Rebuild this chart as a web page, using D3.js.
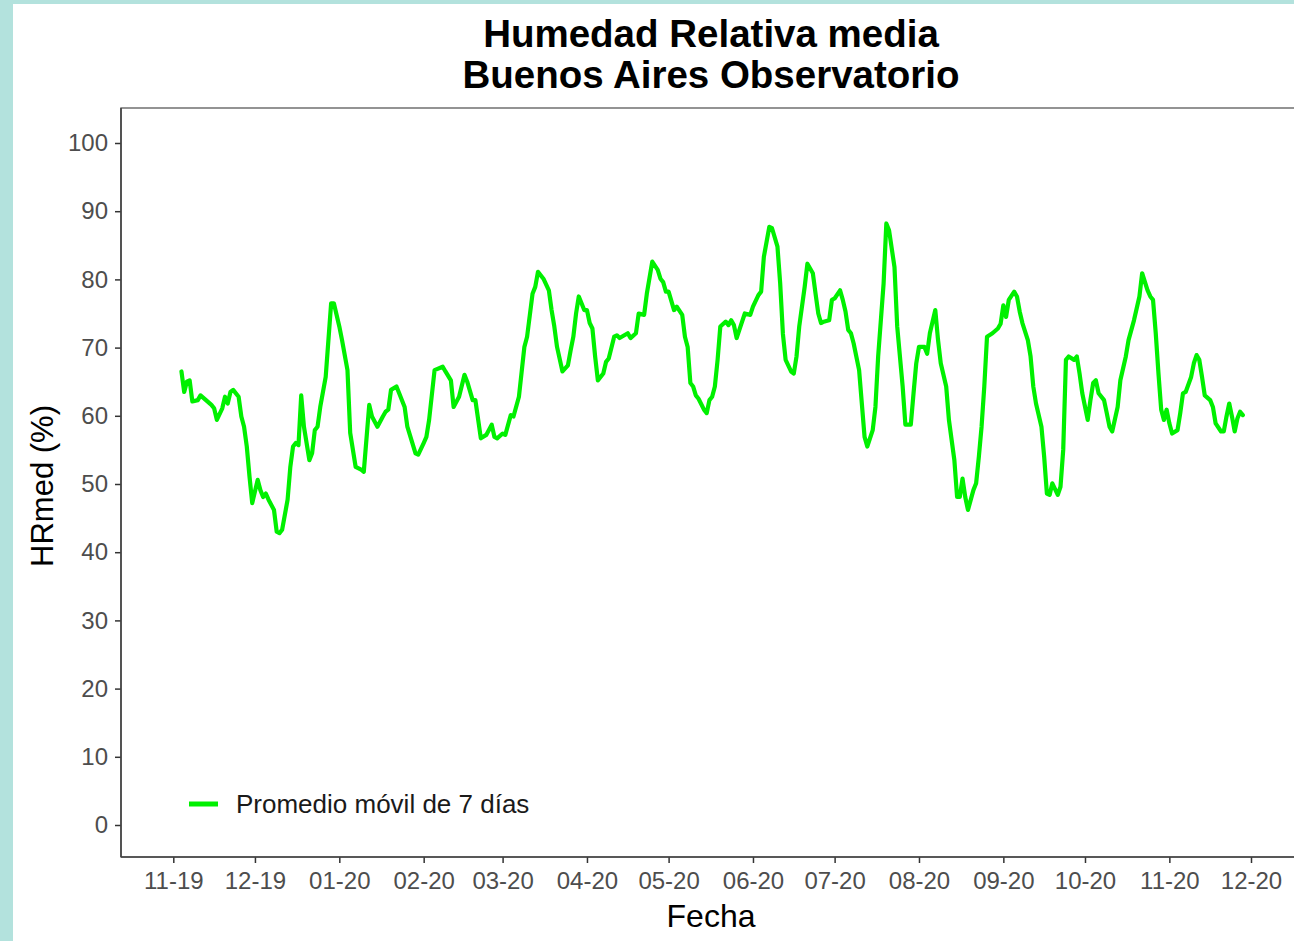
<!DOCTYPE html>
<html>
<head>
<meta charset="utf-8">
<script src="https://cdn.jsdelivr.net/npm/d3@7"></script>
<style>
html,body{margin:0;padding:0;background:#b3e2dd;}
svg{display:block;}
</style>
</head>
<body>
<svg id="chart" width="1294" height="941"></svg>
<script>
const titleLines = ["Humedad Relativa media", "Buenos Aires Observatorio"];
const xLabel = "Fecha";
const yLabel = "HRmed (%)";
const legendLabel = "Promedio móvil de 7 días";
const yTicks = [0,10,20,30,40,50,60,70,80,90,100];
const xTickDates = ["2019-11-01","2019-12-01","2020-01-01","2020-02-01","2020-03-01","2020-04-01","2020-05-01","2020-06-01","2020-07-01","2020-08-01","2020-09-01","2020-10-01","2020-11-01","2020-12-01"];

const dates = [
"2019-11-04","2019-11-05","2019-11-06","2019-11-07","2019-11-08","2019-11-10","2019-11-11","2019-11-13","2019-11-15","2019-11-16",
"2019-11-17","2019-11-19","2019-11-20","2019-11-21","2019-11-22","2019-11-23","2019-11-25","2019-11-26","2019-11-27","2019-11-28",
"2019-11-29","2019-11-30","2019-12-02","2019-12-03","2019-12-04","2019-12-05","2019-12-06","2019-12-08","2019-12-09","2019-12-10",
"2019-12-11","2019-12-13","2019-12-14","2019-12-15","2019-12-16","2019-12-17","2019-12-18","2019-12-19","2019-12-21","2019-12-22",
"2019-12-23","2019-12-24","2019-12-25","2019-12-27","2019-12-29","2019-12-30","2020-01-01","2020-01-02","2020-01-04","2020-01-05",
"2020-01-07","2020-01-09","2020-01-10","2020-01-12","2020-01-13","2020-01-15","2020-01-17","2020-01-18","2020-01-19","2020-01-20",
"2020-01-22","2020-01-23","2020-01-25","2020-01-26","2020-01-29","2020-01-30","2020-02-01","2020-02-02","2020-02-03","2020-02-05",
"2020-02-08","2020-02-09","2020-02-11","2020-02-12","2020-02-14","2020-02-16","2020-02-17","2020-02-19","2020-02-20","2020-02-22",
"2020-02-24","2020-02-26","2020-02-27","2020-02-28","2020-03-01","2020-03-02","2020-03-04","2020-03-05","2020-03-07","2020-03-09",
"2020-03-10","2020-03-12","2020-03-13","2020-03-14","2020-03-16","2020-03-18","2020-03-19","2020-03-20","2020-03-21","2020-03-23",
"2020-03-25","2020-03-26","2020-03-27","2020-03-28","2020-03-29","2020-03-31","2020-04-01","2020-04-02","2020-04-03","2020-04-04",
"2020-04-05","2020-04-07","2020-04-08","2020-04-09","2020-04-11","2020-04-12","2020-04-13","2020-04-16","2020-04-17","2020-04-19",
"2020-04-20","2020-04-22","2020-04-23","2020-04-25","2020-04-27","2020-04-28","2020-04-29","2020-04-30","2020-05-01","2020-05-03",
"2020-05-04","2020-05-06","2020-05-07","2020-05-08","2020-05-09","2020-05-10","2020-05-11","2020-05-12","2020-05-14","2020-05-15",
"2020-05-16","2020-05-17","2020-05-18","2020-05-19","2020-05-20","2020-05-22","2020-05-23","2020-05-24","2020-05-25","2020-05-26",
"2020-05-27","2020-05-29","2020-05-31","2020-06-01","2020-06-03","2020-06-04","2020-06-05","2020-06-07","2020-06-08","2020-06-10",
"2020-06-11","2020-06-12","2020-06-13","2020-06-15","2020-06-16","2020-06-17","2020-06-18","2020-06-20","2020-06-21","2020-06-23",
"2020-06-24","2020-06-25","2020-06-26","2020-06-27","2020-06-29","2020-06-30","2020-07-01","2020-07-03","2020-07-04","2020-07-05",
"2020-07-06","2020-07-07","2020-07-08","2020-07-10","2020-07-11","2020-07-12","2020-07-13","2020-07-15","2020-07-16","2020-07-17",
"2020-07-19","2020-07-20","2020-07-21","2020-07-23","2020-07-24","2020-07-26","2020-07-27","2020-07-29","2020-07-30","2020-07-31",
"2020-08-01","2020-08-03","2020-08-04","2020-08-05","2020-08-07","2020-08-08","2020-08-09","2020-08-11","2020-08-12","2020-08-14",
"2020-08-15","2020-08-16","2020-08-17","2020-08-18","2020-08-19","2020-08-21","2020-08-22","2020-08-23","2020-08-24","2020-08-25",
"2020-08-26","2020-08-28","2020-08-30","2020-08-31","2020-09-01","2020-09-02","2020-09-03","2020-09-05","2020-09-06","2020-09-07",
"2020-09-08","2020-09-10","2020-09-11","2020-09-12","2020-09-13","2020-09-15","2020-09-16","2020-09-17","2020-09-18","2020-09-19",
"2020-09-21","2020-09-22","2020-09-23","2020-09-24","2020-09-25","2020-09-27","2020-09-28","2020-09-29","2020-09-30","2020-10-02",
"2020-10-03","2020-10-04","2020-10-05","2020-10-06","2020-10-08","2020-10-09","2020-10-10","2020-10-11","2020-10-13","2020-10-14",
"2020-10-16","2020-10-17","2020-10-19","2020-10-21","2020-10-22","2020-10-24","2020-10-25","2020-10-26","2020-10-27","2020-10-28",
"2020-10-29","2020-10-30","2020-10-31","2020-11-01","2020-11-02","2020-11-04","2020-11-05","2020-11-06","2020-11-07","2020-11-09",
"2020-11-10","2020-11-11","2020-11-12","2020-11-13","2020-11-14","2020-11-16","2020-11-17","2020-11-18","2020-11-20","2020-11-21",
"2020-11-22","2020-11-23","2020-11-24","2020-11-25","2020-11-26","2020-11-27","2020-11-28"
];
const hrMovingAvg = [
66.5,63.5,65.0,65.2,62.1,62.3,63.0,62.3,61.6,61.1,
59.4,61.1,62.8,61.8,63.5,63.8,62.8,59.9,58.4,55.5,
51.1,47.2,50.6,49.1,48.1,48.6,47.7,46.2,43.0,42.8,
43.3,47.7,52.5,55.5,56.0,55.7,63.0,58.4,53.5,54.5,
57.9,58.4,61.3,65.7,76.5,76.5,73.1,71.1,66.7,57.5,
52.5,52.1,51.8,61.6,59.9,58.4,59.9,60.6,60.9,63.8,
64.3,63.3,61.3,58.4,54.5,54.3,56.0,56.9,59.4,66.7,
67.2,66.5,65.2,61.3,62.8,66.0,65.0,62.3,62.3,56.7,
57.2,58.7,56.9,56.7,57.4,57.2,60.1,59.9,62.8,70.1,
71.6,77.9,78.9,81.1,80.1,78.4,75.5,73.1,70.1,66.5,
67.4,69.6,71.6,75.0,77.5,75.5,75.5,73.6,72.8,68.7,
65.2,66.2,67.9,68.4,71.6,71.8,71.4,72.1,71.4,72.1,
75.0,74.8,77.9,82.6,81.4,80.1,79.6,78.2,78.2,75.5,
76.0,74.8,71.6,70.1,64.8,64.3,63.0,62.5,60.9,60.4,
62.3,62.8,64.3,68.2,73.1,73.8,73.3,74.0,73.3,71.4,
72.6,75.0,74.8,76.0,77.7,78.2,83.3,87.7,87.5,84.8,
79.4,72.0,68.2,66.5,66.2,68.7,73.1,78.9,82.3,80.9,
77.9,75.0,73.6,73.8,74.0,77.0,77.2,78.4,77.0,75.3,
72.6,72.1,70.6,66.7,61.8,56.9,55.5,57.9,61.3,68.7,
79.4,88.2,87.2,81.8,73.1,64.3,58.7,58.7,63.3,67.7,
70.1,70.1,69.1,72.1,75.5,71.1,67.7,64.3,59.4,53.5,
48.1,48.1,50.8,48.1,46.2,49.1,50.1,54.0,58.4,64.3,
71.6,72.1,72.8,73.5,76.2,74.5,77.0,78.2,77.5,75.3,
73.6,71.1,68.7,64.3,61.8,58.4,54.0,48.6,48.4,50.1,
48.4,49.6,55.0,68.2,68.7,68.2,68.7,66.2,63.3,59.4,
62.3,64.8,65.2,63.3,62.3,60.4,58.4,57.7,61.3,65.2,
68.7,71.1,74.0,77.5,80.9,78.4,77.5,77.0,72.1,66.2,
60.9,59.4,60.9,58.9,57.4,57.9,60.4,63.3,63.5,65.7,
67.7,68.9,68.2,65.7,63.0,62.3,61.3,58.9,57.7,57.7,
59.9,61.8,59.9,57.7,59.6,60.6,60.1
];

const parse = d3.timeParse("%Y-%m-%d");
const data = dates.map((d, i) => ({date: parse(d), value: hrMovingAvg[i]}));

const W = 1294, H = 941;
const svg = d3.select("#chart");
const fontMain = "'Liberation Sans', Arial, sans-serif";
const lineColor = "#00f000";

// white card over teal background
svg.append("rect").attr("x", 0).attr("y", 0).attr("width", W).attr("height", H).attr("fill", "#b3e2dd");
svg.append("rect").attr("x", 13).attr("y", 4).attr("width", W - 13).attr("height", H - 4).attr("fill", "#ffffff");

const panel = {left: 121, right: 1301, top: 108, bottom: 857};

const x = d3.scaleTime()
  .domain([parse("2019-11-01"), parse("2020-12-01")])
  .range([173.3, 1251]);
const y = d3.scaleLinear().domain([0, 100]).range([825, 143]);

// panel border
svg.append("rect")
  .attr("x", panel.left).attr("y", panel.top)
  .attr("width", panel.right - panel.left).attr("height", panel.bottom - panel.top)
  .attr("fill", "none").attr("stroke", "#666").attr("stroke-width", 1.4);

// y axis
const yAxis = d3.axisLeft(y).tickValues(yTicks).tickSize(6).tickPadding(7);
const gy = svg.append("g").attr("transform", `translate(${panel.left},0)`).call(yAxis);
gy.select(".domain").remove();
gy.selectAll(".tick line").attr("stroke", "#333").attr("stroke-width", 1.5);
gy.selectAll(".tick text").attr("fill", "#4d4d4d").style("font-family", fontMain).style("font-size", "24px");

// x axis
const xAxis = d3.axisBottom(x).tickValues(xTickDates.map(parse)).tickFormat(d3.timeFormat("%m-%y")).tickSize(6).tickPadding(9);
const gx = svg.append("g").attr("transform", `translate(0,${panel.bottom})`).call(xAxis);
gx.select(".domain").remove();
gx.selectAll(".tick line").attr("stroke", "#333").attr("stroke-width", 1.5);
gx.selectAll(".tick text").attr("fill", "#4d4d4d").style("font-family", fontMain).style("font-size", "24px");

// axis lines (darker left & bottom)
svg.append("line").attr("x1", panel.left).attr("x2", panel.left).attr("y1", panel.top).attr("y2", panel.bottom).attr("stroke", "#444").attr("stroke-width", 1.6);
svg.append("line").attr("x1", panel.left).attr("x2", panel.right).attr("y1", panel.bottom).attr("y2", panel.bottom).attr("stroke", "#444").attr("stroke-width", 1.6);

// line
const line = d3.line().x(d => x(d.date)).y(d => y(d.value));
svg.append("path").datum(data)
  .attr("d", line).attr("fill", "none")
  .attr("stroke", lineColor).attr("stroke-width", 4.2)
  .attr("stroke-linejoin", "round").attr("stroke-linecap", "round");

// titles
const cx = (panel.left + panel.right) / 2;
svg.append("text").attr("x", cx).attr("y", 47).attr("text-anchor", "middle")
  .style("font-family", fontMain).style("font-weight", "bold").style("font-size", "38.5px").attr("fill", "#000")
  .text(titleLines[0]);
svg.append("text").attr("x", cx).attr("y", 88).attr("text-anchor", "middle")
  .style("font-family", fontMain).style("font-weight", "bold").style("font-size", "38.5px").attr("fill", "#000")
  .text(titleLines[1]);

// axis titles
svg.append("text").attr("x", cx).attr("y", 927).attr("text-anchor", "middle")
  .style("font-family", fontMain).style("font-size", "32px").attr("fill", "#000").text(xLabel);
svg.append("text").attr("transform", "translate(53,486) rotate(-90)").attr("text-anchor", "middle")
  .style("font-family", fontMain).style("font-size", "31px").attr("fill", "#000").text(yLabel);

// legend
svg.append("line").attr("x1", 189).attr("x2", 218).attr("y1", 804).attr("y2", 804)
  .attr("stroke", lineColor).attr("stroke-width", 5);
svg.append("text").attr("x", 236).attr("y", 813)
  .style("font-family", fontMain).style("font-size", "26px").attr("fill", "#1a1a1a").text(legendLabel);
</script>
</body>
</html>
